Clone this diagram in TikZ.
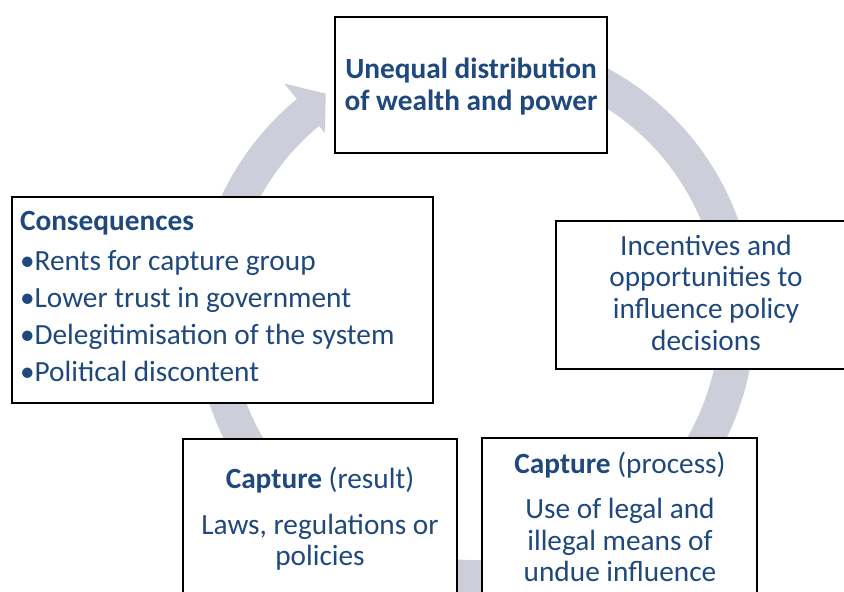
\documentclass[tikz,border=0pt]{standalone}
\usepackage{fontspec}
\setmainfont{Carlito}
\definecolor{txt}{RGB}{31,73,125}
\definecolor{ringc}{RGB}{204,207,217}
\begin{document}
\begin{tikzpicture}[x=1pt,y=1pt,
  box/.style={draw=black, line width=2.6pt, fill=white, inner sep=0pt, outer sep=0pt},
  lbl/.style={text=txt, inner sep=0pt, outer sep=0pt, anchor=base, font=\fontsize{29.3}{31.7}\selectfont},
  lbll/.style={text=txt, inner sep=0pt, outer sep=0pt, anchor=base west, font=\fontsize{29.3}{37.3}\selectfont},
  ring/.style={draw=ringc, line width=35pt},
  ringhead/.style={fill=ringc}
  ]
\clip (0,0) rectangle (844,-592);
\coordinate (c) at (475,-315);
% cycle arrow
\draw[ring] ([shift={(75:262.5pt)}]c) arc[start angle=75, end angle=-231.5, radius=262.5pt];
\coordinate (hout) at ([shift={(129.5:300pt)}]c);
\coordinate (htip) at ([shift={(124:267pt)}]c);
\coordinate (hin) at ([shift={(129.5:236pt)}]c);
\fill[ringhead] (hout) -- (htip) -- (hin) -- cycle;
% boxes
\node[box, minimum width=272pt, minimum height=136pt] (topbox) at (471,-85) {};
\node[box, minimum width=421pt, minimum height=206pt] (consbox) at (222.5,-300) {};
\node[box, minimum width=300pt, minimum height=148pt] (incbox) at (706,-295) {};
\node[box, minimum width=274pt, minimum height=221pt] (resbox) at (320,-549.5) {};
\node[box, minimum width=275pt, minimum height=222pt] (procbox) at (619.5,-549) {};
% texts
\node[lbl] (toptext) at (471,-78.3) {\begin{tabular}[t]{@{}c@{}}\bfseries Unequal distribution\\ \bfseries of wealth and power\end{tabular}};
\node[lbl] (inctext) at (706,-255) {\begin{tabular}[t]{@{}c@{}}Incentives and\\ opportunities to\\ influence policy\\ decisions\end{tabular}};
\node[lbll] (constext) at (20,-230) {\begin{tabular}[t]{@{}l@{}}\bfseries Consequences\\[2.7pt] •Rents for capture group\\ •Lower trust in government\\ •Delegitimisation of the system\\ •Political discontent\end{tabular}};
\node[lbl] (restext) at (320,-488) {\begin{tabular}[t]{@{}c@{}}\textbf{Capture} (result)\\[14.3pt] Laws, regulations or\\ policies\end{tabular}};
\node[lbl] (proctext) at (620,-473.3) {\begin{tabular}[t]{@{}c@{}}\textbf{Capture} (process)\\[13.3pt] Use of legal and\\ illegal means of\\ undue influence\end{tabular}};
\end{tikzpicture}
\end{document}
